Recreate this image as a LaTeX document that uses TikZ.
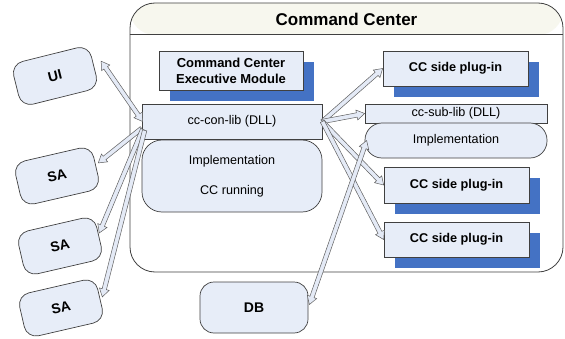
\documentclass[tikz,border=0pt]{standalone}
\usepackage{fontspec}
\setmainfont{Liberation Sans}
\usetikzlibrary{calc,shadows}
\definecolor{boxfill}{RGB}{231,237,248}
\definecolor{edge}{RGB}{64,64,64}
\definecolor{shadowblue}{RGB}{68,114,196}
\definecolor{headfill}{RGB}{247,247,238}
\definecolor{arrowfill}{RGB}{228,234,246}
\definecolor{arrowedge}{RGB}{95,95,95}
% single-headed block arrow from #1 to #2
\newcommand\blkarrow[2]{%
  \path coordinate (ba) at (#1) coordinate (bb) at (#2);
  \path coordinate (bl) at ($(bb)!8pt!(ba)$);
  \filldraw[arr] ($(ba)!2.2pt!90:(bb)$) -- ($(bl)!2.2pt!90:(bb)$) -- ($(bl)!5pt!90:(bb)$) -- (bb)
    -- ($(bl)!5pt!-90:(bb)$) -- ($(bl)!2.2pt!-90:(bb)$) -- ($(ba)!2.2pt!-90:(bb)$) -- cycle;}
% double-headed block arrow between #1 and #2
\newcommand\dblkarrow[2]{%
  \path coordinate (ba) at (#1) coordinate (bb) at (#2);
  \path coordinate (bl) at ($(bb)!8pt!(ba)$) coordinate (al) at ($(ba)!8pt!(bb)$);
  \filldraw[arr] (ba) -- ($(al)!5pt!90:(bb)$) -- ($(al)!2.2pt!90:(bb)$) -- ($(bl)!2.2pt!90:(bb)$)
    -- ($(bl)!5pt!90:(bb)$) -- (bb) -- ($(bl)!5pt!-90:(bb)$) -- ($(bl)!2.2pt!-90:(bb)$)
    -- ($(al)!2.2pt!-90:(bb)$) -- ($(al)!5pt!-90:(bb)$) -- cycle;}
\begin{document}
\begin{tikzpicture}[x=1pt,y=1pt,
  box/.style={draw=edge, fill=boxfill, line width=0.7pt, inner sep=0pt, align=center,
    font=\fontsize{12.6}{15}\selectfont},
  bluesh/.style={general shadow={fill=shadowblue, shadow xshift=11pt, shadow yshift=-11pt}},
  plug/.style={box, bluesh, font=\bfseries\fontsize{12.7}{15}\selectfont,
    minimum width=145pt, minimum height=35pt},
  ext/.style={box, rounded corners=12pt, font=\bfseries\fontsize{14}{16}\selectfont,
    minimum width=80pt, minimum height=44pt},
  arr/.style={fill=arrowfill, draw=arrowedge, line width=0.5pt, line join=miter}]
\useasboundingbox (0,0) rectangle (565,338);

% Command Center container
\node[draw=edge, line width=0.8pt, fill=white, rounded corners=25pt, inner sep=0pt,
  minimum width=433pt, minimum height=269pt,
  path picture={\fill[headfill] (path picture bounding box.north west) rectangle
    ($(path picture bounding box.north east)+(0,-32)$);}] (cc) at (346.5,200.5) {};
\draw[edge, line width=0.8pt] ($(cc.north west)+(0,-32)$) -- ($(cc.north east)+(0,-32)$);
\node[font=\bfseries\fontsize{17}{20}\selectfont] (title) at (346.5,319) {Command Center};

% inner modules
\node[box, bluesh, font=\bfseries\fontsize{13}{16}\selectfont, minimum width=144pt,
  minimum height=39pt] (exec) at (231,267.5) {Command Center\\Executive Module};
\node[box, minimum width=180pt, minimum height=35pt] (conlib) at (232,216.5) {cc-con-lib (DLL)};
\node[box, rounded corners=20pt, minimum width=180pt, minimum height=72pt] (impl) at (232,162)
  {Implementation\\[15pt]CC running};

\node[plug] (p1) at (455.5,269.5) {CC side plug-in};
\node[box, minimum width=182pt, minimum height=19pt] (sublib) at (456,224.5) {cc-sub-lib (DLL)};
\node[box, rounded corners=17pt, minimum width=182pt, minimum height=35pt] (subimpl) at (456,197.5)
  {Implementation};
\node[plug, minimum height=36pt] (p2) at (456.5,153) {CC side plug-in};
\node[plug] (p3) at (456.5,98.5) {CC side plug-in};

% external parts
\node[ext, rotate=14] (UI) at (55,262) {UI};
\node[ext, rotate=13] (SA1) at (57,162) {SA};
\node[ext, rotate=13] (SA2) at (60,92) {SA};
\node[ext, rotate=13] (SA3) at (61,30) {SA};
\node[ext, rounded corners=14pt, minimum width=108pt, minimum height=51pt] (DB) at (254,30.5) {DB};

% connectors
\coordinate (uiT) at ($(UI.east)+(7,5)$);
\coordinate (ccL) at ($(conlib.west)+(1,0)$);
\dblkarrow{uiT}{ccL}
\blkarrow{$(conlib.south west)+(0,11)$}{$(SA1.east)+(2,4)$}
\blkarrow{$(conlib.south west)+(1,10)$}{$(SA2.east)+(0,4)$}
\blkarrow{$(conlib.south west)+(3,9)$}{$(SA3.east)+(2,2)$}

\blkarrow{conlib.east}{p1.west}
\blkarrow{conlib.east}{sublib.west}
\blkarrow{conlib.east}{p2.west}
\blkarrow{conlib.east}{p3.west}
\dblkarrow{$(DB.east)+(1,3)$}{$(subimpl.west)+(2,0)$}
\end{tikzpicture}
\end{document}
